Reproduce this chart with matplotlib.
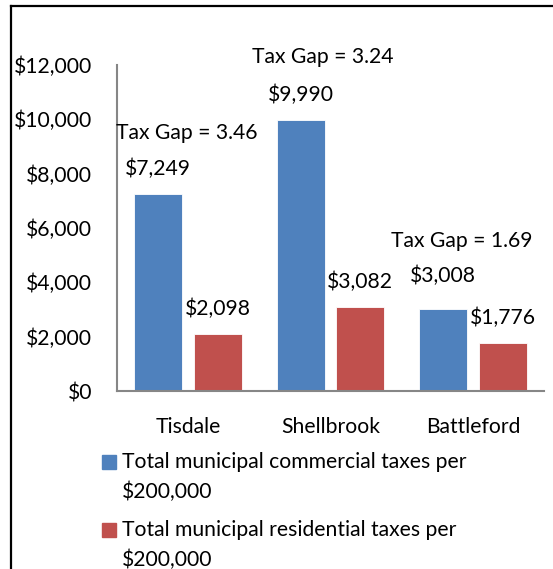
import matplotlib
matplotlib.use('Agg')
import matplotlib.pyplot as plt
from matplotlib.patches import Rectangle
from matplotlib.lines import Line2D

W, H = 553, 569
BLUE = '#4F81BD'
RED = '#C0504D'
FONT = 'Lato'
FS = 15.2

towns = ['Tisdale', 'Shellbrook', 'Battleford']
commercial = [7249, 9990, 3008]
residential = [2098, 3082, 1776]
tax_gap = [3.46, 3.24, 1.69]
series_names = ['Total municipal commercial taxes per\n$200,000',
                'Total municipal residential taxes per\n$200,000']
y_ticks = [0, 2000, 4000, 6000, 8000, 10000, 12000]


def fx(px):
    return px / W


def fy(py):
    return 1 - py / H


fig = plt.figure(figsize=(W / 100, H / 100), dpi=100)
fig.patch.set_facecolor('white')

# plot area in pixel terms: x 117..544, y 65..391
ax = fig.add_axes([fx(117), fy(391), fx(544 - 117), (391 - 65) / H])
ax.set_xlim(-0.5, 2.5)
ax.set_ylim(0, 12000)

bw = 0.337
off = 0.21
xs = list(range(len(towns)))
b1 = ax.bar([x - off for x in xs], commercial, bw, color=BLUE, edgecolor='white', linewidth=0.6)
b2 = ax.bar([x + off for x in xs], residential, bw, color=RED, edgecolor='white', linewidth=0.6)

# value labels above bars (the $3,008 label sits a bit higher)
lift = {(0, 2): 8}
for si, bars in enumerate([b1, b2]):
    for i, r in enumerate(bars):
        v = r.get_height()
        dy = 25 + lift.get((si, i), 0)
        ax.annotate(f'${v:,.0f}', (r.get_x() + r.get_width() / 2, v),
                    xytext=(0, dy), textcoords='offset pixels',
                    ha='center', va='center', fontsize=FS, family=FONT)

# tax gap notes
gap_pos = [(-0.01, 9500), (0.948, 12300), (1.924, 5520)]
for g, (gx, gy) in zip(tax_gap, gap_pos):
    ax.text(gx, gy, f'Tax Gap = {g:.2f}', ha='center', va='center',
            fontsize=FS, family=FONT, clip_on=False)

ax.set_yticks(y_ticks)
ax.set_yticklabels([f'${t:,.0f}' for t in y_ticks], fontsize=FS, family=FONT)
ax.set_xticks(xs)
ax.set_xticklabels(towns, fontsize=FS, family=FONT)
ax.tick_params(axis='y', length=0, pad=18)
ax.tick_params(axis='x', length=0, pad=19)
for s in ['top', 'right']:
    ax.spines[s].set_visible(False)
for s in ['left', 'bottom']:
    ax.spines[s].set_color('#868686')
    ax.spines[s].set_linewidth(1.5)

# legend, drawn by hand so the swatch lines up with the first text line
leg_rows = [462, 530]
for name, col, cy in zip(series_names, [BLUE, RED], leg_rows):
    fig.patches.append(Rectangle((fx(102), fy(cy + 7)), fx(14), 14 / H,
                                 transform=fig.transFigure, color=col))
    for k, line in enumerate(name.split('\n')):
        fig.text(fx(122), fy(cy + 30 * k), line, ha='left', va='center',
                 fontsize=FS, family=FONT)

# outer frame: top and left edges only
fig.add_artist(Line2D([fx(11), 1], [fy(6), fy(6)], transform=fig.transFigure,
                      color='black', linewidth=1.6))
fig.add_artist(Line2D([fx(11), fx(11)], [fy(6), 0], transform=fig.transFigure,
                      color='black', linewidth=1.6))

fig.savefig('out.png', dpi=100)
